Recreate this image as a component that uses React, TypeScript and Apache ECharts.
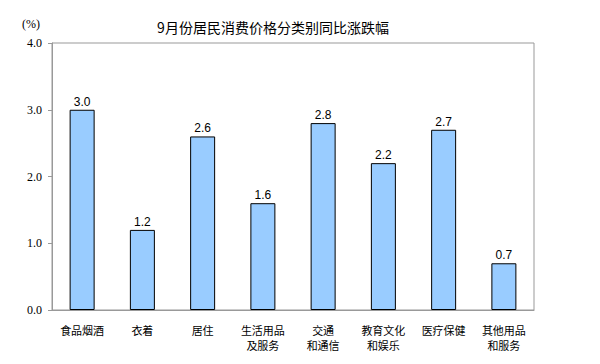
import React, { useEffect, useRef } from "react";
import * as echarts from "echarts";

const categories = ["食品烟酒", "衣着", "居住", "生活用品\n及服务", "交通\n和通信", "教育文化\n和娱乐", "医疗保健", "其他用品\n和服务"];
const values = [3.0, 1.2, 2.6, 1.6, 2.8, 2.2, 2.7, 0.7];
const yTicks = [0, 1, 2, 3, 4];

export default function App() {
  const ref = useRef<HTMLDivElement>(null);
  useEffect(() => {
    const chart = echarts.init(ref.current!, null, { renderer: "svg" });
    chart.setOption({
      animation: false,
      title: {
        text: "9月份居民消费价格分类别同比涨跌幅",
        left: 268,
        textAlign: "center",
        top: 15,
        textStyle: { fontSize: 14, fontWeight: "normal", color: "#000", fontFamily: "Noto Sans CJK SC" },
      },
      grid: {
        left: 52,
        right: 66,
        top: 43,
        bottom: 54,
        show: true,
        borderColor: "#999",
        borderWidth: 1,
        backgroundColor: "transparent",
      },
      xAxis: {
        type: "category",
        data: categories,
        axisLine: { lineStyle: { color: "#999" } },
        axisTick: { show: false },
        axisLabel: {
          color: "#000",
          fontSize: 11,
          margin: 12,
          lineHeight: 15,
          interval: 0,
          fontFamily: "Noto Sans CJK SC",
        },
      },
      yAxis: {
        type: "value",
        min: yTicks[0],
        max: yTicks[yTicks.length - 1],
        interval: 1,
        name: "(%)",
        nameLocation: "end",
        nameGap: 13,
        nameTextStyle: { color: "#000", fontSize: 12, fontFamily: "Liberation Serif", align: "right", padding: [0, 12, 0, 0] },
        axisLine: { show: true, lineStyle: { color: "#999" } },
        axisTick: { show: true, length: 4, inside: false, lineStyle: { color: "#999" } },
        splitLine: { show: false },
        axisLabel: {
          color: "#000",
          fontSize: 12,
          fontFamily: "Liberation Serif",
          margin: 10,
          formatter: (v: number) => v.toFixed(1),
        },
      },
      series: [
        {
          type: "bar",
          data: values,
          barWidth: 25,
          itemStyle: { color: "#99ccff", borderColor: "#000", borderWidth: 1 },
          label: {
            show: true,
            position: "top",
            distance: 2,
            color: "#000",
            fontSize: 12,
            fontFamily: "Liberation Sans",
            formatter: (p: any) => Number(p.value).toFixed(1),
          },
        },
      ],
    });
    return () => chart.dispose();
  }, []);
  return <div ref={ref} style={{ width: 600, height: 364, position: "absolute", left: 0, top: 0 }} />;
}
